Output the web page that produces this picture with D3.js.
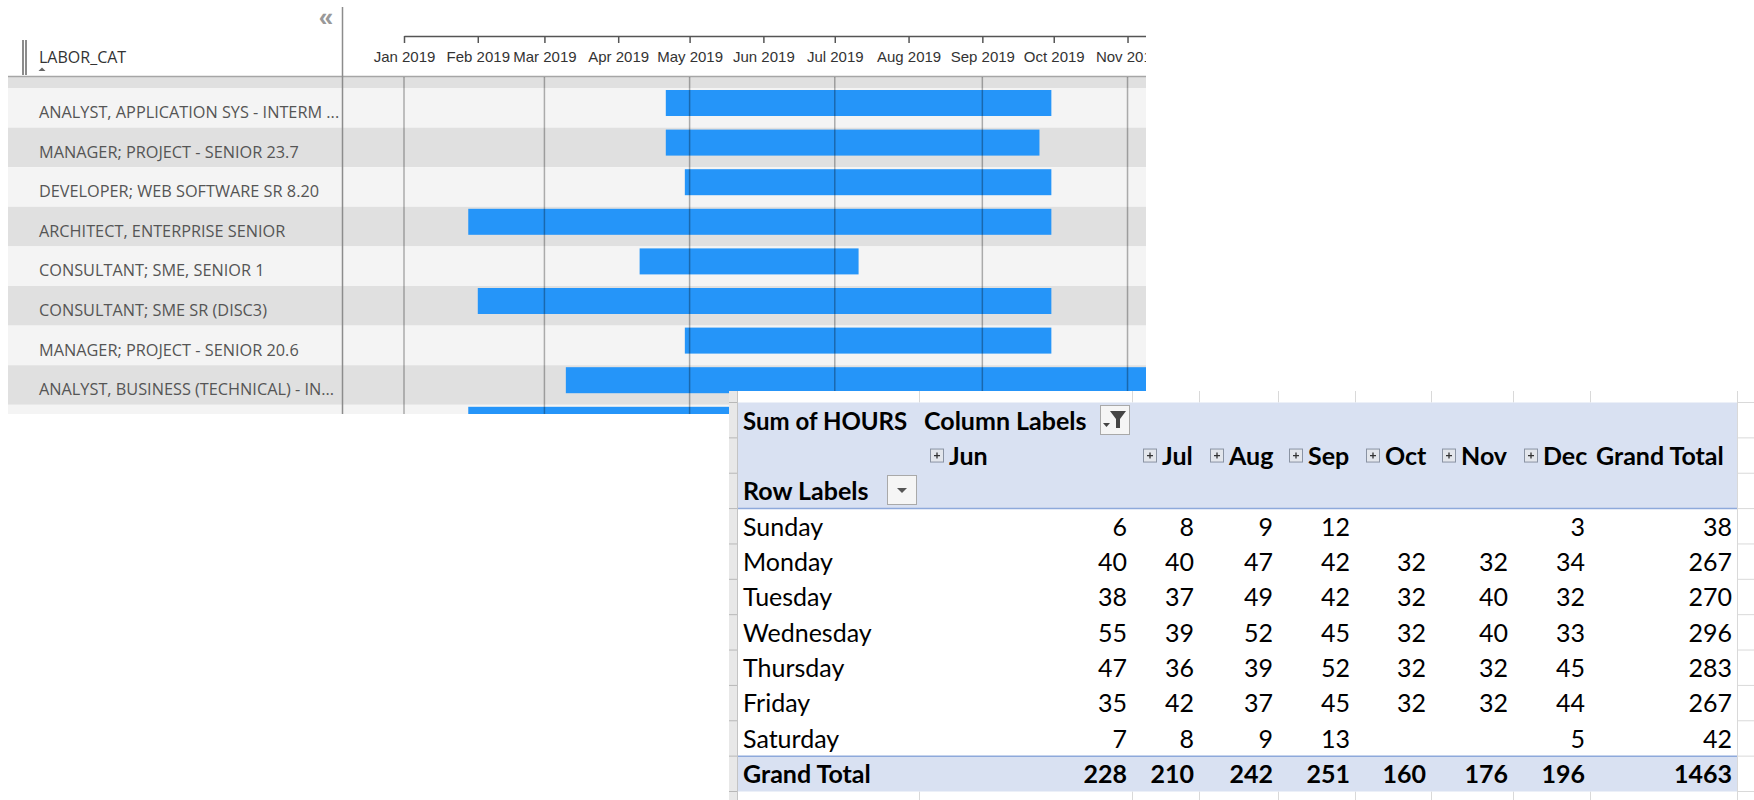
<!DOCTYPE html>
<html>
<head>
<meta charset="utf-8">
<script src="https://cdn.jsdelivr.net/npm/d3@7"></script>
<style>
  html, body { margin: 0; padding: 0; background: #fff; }
  svg { display: block; }
</style>
</head>
<body>
<svg id="chart" width="1754" height="800"></svg>
<script>
// ---- gantt data ----
const laborCats = [
  'ANALYST, APPLICATION SYS - INTERM ...',
  'MANAGER; PROJECT - SENIOR 23.7',
  'DEVELOPER; WEB SOFTWARE SR 8.20',
  'ARCHITECT, ENTERPRISE SENIOR',
  'CONSULTANT; SME, SENIOR 1',
  'CONSULTANT; SME SR (DISC3)',
  'MANAGER; PROJECT - SENIOR 20.6',
  'ANALYST, BUSINESS (TECHNICAL) - IN...',
  '',
];
const startDates = ['2019-04-21', '2019-04-21', '2019-04-29', '2019-01-28', '2019-04-10',
  '2019-02-01', '2019-04-29', '2019-03-10', '2019-01-28'];
const endDates = ['2019-09-30', '2019-09-25', '2019-09-30', '2019-09-30', '2019-07-11',
  '2019-09-30', '2019-09-30', '2019-12-31', '2019-09-30'];

// ---- pivot data ----
const days = ['Sunday', 'Monday', 'Tuesday', 'Wednesday', 'Thursday', 'Friday', 'Saturday'];
const months = ['Jun', 'Jul', 'Aug', 'Sep', 'Oct', 'Nov', 'Dec'];
const hours = [
  [6, 8, 9, 12, null, null, 3],
  [40, 40, 47, 42, 32, 32, 34],
  [38, 37, 49, 42, 32, 40, 32],
  [55, 39, 52, 45, 32, 40, 33],
  [47, 36, 39, 52, 32, 32, 45],
  [35, 42, 37, 45, 32, 32, 44],
  [7, 8, 9, 13, null, null, 5],
];

const svg = d3.select('#chart');
const defs = svg.append('defs');

// ================= GANTT =================
const parseDay = d3.utcParse('%Y-%m-%d');
const pxPerDay = 2.38;
const x = d3.scaleUtc()
  .domain([parseDay('2019-01-01'), parseDay('2019-12-01')])
  .range([404, 404 + 334 * pxPerDay]);
const rowY = d3.scaleLinear().domain([0, 1]).range([88, 127.6]);
const rowH = rowY(1) - rowY(0);

defs.append('clipPath').attr('id', 'ganttClip')
  .append('rect').attr('x', 0).attr('y', 0).attr('width', 1146).attr('height', 414);
defs.append('clipPath').attr('id', 'plotClip')
  .append('rect').attr('x', 343).attr('y', 0).attr('width', 803).attr('height', 414);

const gantt = svg.append('g').attr('clip-path', 'url(#ganttClip)');

// row stripes (row -1 is the one cut off under the header)
gantt.selectAll('rect.stripe')
  .data(d3.range(-1, laborCats.length))
  .join('rect')
  .attr('class', 'stripe')
  .attr('x', 8)
  .attr('y', (d) => rowY(d))
  .attr('width', 1138)
  .attr('height', rowH)
  .attr('fill', (d) => (d % 2 === 0 ? '#f4f4f4' : '#e0e0e0'));

// header
gantt.append('rect').attr('x', 0).attr('y', 0).attr('width', 1146).attr('height', 76).attr('fill', '#fff');
gantt.append('line')
  .attr('x1', 8).attr('x2', 1146).attr('y1', 76.5).attr('y2', 76.5)
  .attr('stroke', '#a6a6a6').attr('stroke-width', 1.5);

const plot = gantt.append('g').attr('clip-path', 'url(#plotClip)');

plot.selectAll('rect.bar')
  .data(laborCats)
  .join('rect')
  .attr('class', 'bar')
  .attr('x', (d, i) => x(parseDay(startDates[i])))
  .attr('y', (d, i) => rowY(i) + 2)
  .attr('width', (d, i) => x(parseDay(endDates[i])) - x(parseDay(startDates[i])))
  .attr('height', 26)
  .attr('fill', '#2595f9');

// gridlines every two months, drawn over the bars
plot.selectAll('line.grid')
  .data(x.ticks(d3.utcMonth.every(2)))
  .join('line')
  .attr('class', 'grid')
  .attr('x1', (d) => x(d)).attr('x2', (d) => x(d))
  .attr('y1', 77).attr('y2', 414)
  .attr('stroke', '#000').attr('stroke-opacity', 0.3).attr('stroke-width', 1.5);

gantt.selectAll('text.cat')
  .data(laborCats)
  .join('text')
  .attr('class', 'cat')
  .attr('x', 39)
  .attr('y', (d, i) => rowY(i) + 30)
  .attr('fill', '#555')
  .style('font-family', '"Open Sans", "Noto Sans", sans-serif')
  .style('font-size', '16.3px')
  .text((d) => d);

// time axis
const axisG = gantt.append('g')
  .attr('transform', 'translate(0,36)')
  .call(
    d3.axisBottom(x)
      .ticks(d3.utcMonth.every(1))
      .tickFormat(d3.utcFormat('%b %Y'))
      .tickSize(7)
      .tickSizeOuter(0)
      .tickPadding(8),
  );
axisG.select('.domain').attr('stroke', '#555').attr('stroke-width', 1.5);
axisG.selectAll('.tick line').attr('stroke', '#555').attr('stroke-width', 1.5);
axisG.selectAll('.tick text')
  .attr('fill', '#333')
  .style('font-family', '"Liberation Sans", Arial, sans-serif')
  .style('font-size', '15px');

// divider between labels and timeline
gantt.append('line')
  .attr('x1', 342.5).attr('x2', 342.5).attr('y1', 7).attr('y2', 414)
  .attr('stroke', '#8c8c8c').attr('stroke-width', 1.5);

gantt.append('text')
  .attr('x', 326).attr('y', 26)
  .attr('text-anchor', 'middle')
  .attr('fill', '#999')
  .style('font-family', '"Liberation Sans", Arial, sans-serif')
  .style('font-size', '26px')
  .style('font-weight', 700)
  .text('«');

// column header "LABOR_CAT"
[23, 26].forEach((bx) => {
  gantt.append('line')
    .attr('x1', bx).attr('x2', bx).attr('y1', 40).attr('y2', 75)
    .attr('stroke', '#666').attr('stroke-width', 1.5);
});
gantt.append('text')
  .attr('x', 39).attr('y', 63)
  .attr('fill', '#333')
  .style('font-family', '"Open Sans", "Noto Sans", sans-serif')
  .style('font-size', '16px')
  .text('LABOR_CAT');
gantt.append('path')
  .attr('d', 'M38.5,71 L42,67.5 L45.5,71 Z')
  .attr('fill', '#666');

// ================= PIVOT TABLE =================
const pivotRows = ['hdr0', 'hdr1', 'hdr2', ...days, 'Grand Total'];
const colKeys = ['label', ...months, 'Grand Total'];
const colEdges = [738, 919, 1132, 1199, 1278, 1355, 1431, 1513, 1590, 1737];
const colLeft = d3.scaleOrdinal().domain(colKeys).range(colEdges.slice(0, -1));
const colRight = d3.scaleOrdinal().domain(colKeys).range(colEdges.slice(1));
const py = d3.scaleBand().domain(pivotRows).range([402.5, 791.5]);
const bw = py.bandwidth();

const dayTotals = hours.map((r) => d3.sum(r));
const monthTotals = months.map((m, j) => d3.sum(hours, (r) => r[j]));
const grandTotal = d3.sum(dayTotals);

const pv = svg.append('g');
const fontPv = 'Lato, "Open Sans", sans-serif';
const gridCol = '#d9d9d9';

pv.append('rect').attr('x', 729).attr('y', 391).attr('width', 1025).attr('height', 409).attr('fill', '#fff');

// excel gridlines outside the table
colEdges.slice(1).forEach((cx) => {
  pv.append('line').attr('x1', cx + 0.5).attr('x2', cx + 0.5).attr('y1', 391).attr('y2', 402.5)
    .attr('stroke', gridCol);
  pv.append('line').attr('x1', cx + 0.5).attr('x2', cx + 0.5).attr('y1', 791.5).attr('y2', 800)
    .attr('stroke', gridCol);
});
pv.append('line').attr('x1', 1737.5).attr('x2', 1737.5).attr('y1', 391).attr('y2', 800)
  .attr('stroke', gridCol);
[...pivotRows.map((k) => py(k)), 791.5].forEach((ry) => {
  pv.append('line').attr('x1', 1738).attr('x2', 1754).attr('y1', ry).attr('y2', ry)
    .attr('stroke', gridCol);
});

// row header strip on the left
pv.append('rect').attr('x', 729).attr('y', 391).attr('width', 8).attr('height', 409).attr('fill', '#e8e8e8');
pv.append('line').attr('x1', 737.5).attr('x2', 737.5).attr('y1', 391).attr('y2', 800)
  .attr('stroke', '#c4c4c4');
[...pivotRows.map((k) => py(k)), 791.5].forEach((ry) => {
  pv.append('line').attr('x1', 729).attr('x2', 737).attr('y1', ry).attr('y2', ry)
    .attr('stroke', '#b8b8b8');
});

// header and total fills
pv.append('rect')
  .attr('x', 738).attr('y', py('hdr0'))
  .attr('width', 999).attr('height', bw * 3)
  .attr('fill', '#d9e1f2');
pv.append('rect')
  .attr('x', 738).attr('y', py('Grand Total'))
  .attr('width', 999).attr('height', bw)
  .attr('fill', '#d9e1f2');
[py(days[0]), py('Grand Total')].forEach((ly) => {
  pv.append('line').attr('x1', 738).attr('x2', 1737).attr('y1', ly).attr('y2', ly)
    .attr('stroke', '#8ea9db').attr('stroke-width', 1.5);
});

function cellText(tx, ty, txt, opts = {}) {
  return pv.append('text')
    .attr('x', tx).attr('y', ty)
    .attr('text-anchor', opts.anchor || 'start')
    .attr('fill', '#000')
    .style('font-family', fontPv)
    .style('font-size', opts.size || '25px')
    .style('font-weight', opts.bold ? 700 : 400)
    .text(txt);
}
const base = (k) => py(k) + 27;

cellText(743, base('hdr0'), 'Sum of HOURS', { bold: true, size: '24px' });
cellText(colLeft('Jun') + 5, base('hdr0'), 'Column Labels', { bold: true });

// filter button
pv.append('rect').attr('x', 1100.5).attr('y', 405.5).attr('width', 29).attr('height', 29)
  .attr('fill', '#f5f5f5').attr('stroke', '#a9a9a9');
pv.append('path')
  .attr('d', 'M1110,411 H1126 L1120,419 V428 H1116 V419 Z')
  .attr('fill', '#444');
pv.append('path')
  .attr('d', 'M1103,423 H1110 L1106.5,427 Z')
  .attr('fill', '#444');

// month headers with expand buttons
months.forEach((m) => {
  const bx = colLeft(m) + 11.5;
  const cy = py('hdr1') + bw / 2;
  pv.append('rect').attr('x', bx).attr('y', cy - 6.5).attr('width', 13).attr('height', 13)
    .attr('fill', '#e3e6ec').attr('stroke', '#8a93a3');
  pv.append('path')
    .attr('d', `M${bx + 3.5},${cy} H${bx + 9.5} M${bx + 6.5},${cy - 3} V${cy + 3}`)
    .attr('stroke', '#333').attr('stroke-width', 1.3);
  cellText(colLeft(m) + 30, base('hdr1'), m, { bold: true });
});
cellText(colLeft('Grand Total') + 6, base('hdr1'), 'Grand Total', { bold: true });

cellText(743, base('hdr2'), 'Row Labels', { bold: true });
pv.append('rect').attr('x', 887.5).attr('y', 475.5).attr('width', 29).attr('height', 29)
  .attr('fill', '#f5f5f5').attr('stroke', '#a9a9a9');
pv.append('path').attr('d', 'M897,488 H907 L902,493 Z').attr('fill', '#555');

// body
days.forEach((d, i) => {
  cellText(743, base(d), d);
  months.forEach((m, j) => {
    if (hours[i][j] != null) cellText(colRight(m) - 5, base(d), hours[i][j], { anchor: 'end' });
  });
  cellText(colRight('Grand Total') - 5, base(d), dayTotals[i], { anchor: 'end' });
});

cellText(743, base('Grand Total'), 'Grand Total', { bold: true });
months.forEach((m, j) => {
  cellText(colRight(m) - 5, base('Grand Total'), monthTotals[j], { anchor: 'end', bold: true });
});
cellText(colRight('Grand Total') - 5, base('Grand Total'), grandTotal, { anchor: 'end', bold: true });
</script>
</body>
</html>
